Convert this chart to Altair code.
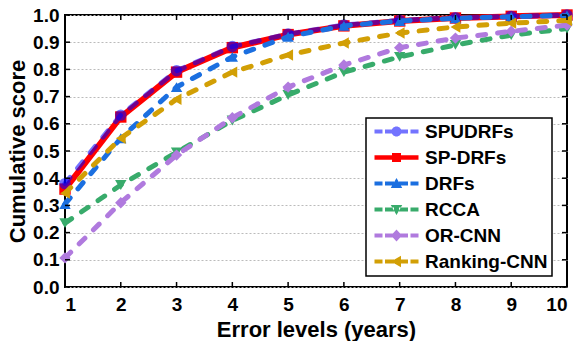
import altair as alt
import pandas as pd

x_levels = [1, 2, 3, 4, 5, 6, 7, 8, 9, 10]
spudrfs = [0.38, 0.632, 0.795, 0.884, 0.93, 0.963, 0.98, 0.99, 0.995, 1.0]
spdrfs = [0.36, 0.625, 0.79, 0.88, 0.928, 0.96, 0.978, 0.989, 0.995, 1.0]
drfs = [0.305, 0.547, 0.735, 0.846, 0.92, 0.96, 0.978, 0.988, 0.994, 0.998]
rcca = [0.235, 0.375, 0.495, 0.612, 0.706, 0.79, 0.846, 0.89, 0.926, 0.95]
orcnn = [0.107, 0.31, 0.485, 0.622, 0.735, 0.816, 0.88, 0.915, 0.94, 0.963]
ranking = [0.345, 0.547, 0.69, 0.79, 0.853, 0.897, 0.934, 0.956, 0.97, 0.98]

y_ticks = [0.0, 0.1, 0.2, 0.3, 0.4, 0.5, 0.6, 0.7, 0.8, 0.9, 1.0]

legend_order = ["SPUDRFs", "SP-DRFs", "DRFs", "RCCA", "OR-CNN", "Ranking-CNN"]
series_values = {
    "SPUDRFs": spudrfs, "SP-DRFs": spdrfs, "DRFs": drfs,
    "RCCA": rcca, "OR-CNN": orcnn, "Ranking-CNN": ranking,
}
colors = {
    "SPUDRFs": "#0000ff", "SP-DRFs": "#ff0000", "DRFs": "#1b6fe0",
    "RCCA": "#38ab6b", "OR-CNN": "#b07ade", "Ranking-CNN": "#d29f05",
}
legend_colors = ["#7373ff", "#ff0000", "#1b6fe0", "#38ab6b", "#b07ade", "#d29f05"]
shapes = {
    "SPUDRFs": "circle", "SP-DRFs": "square", "DRFs": "triangle-up",
    "RCCA": "triangle-down", "OR-CNN": "diamond", "Ranking-CNN": "triangle-left",
}

rows = []
for name in legend_order:
    for xv, yv in zip(x_levels, series_values[name]):
        rows.append({"x": xv, "y": yv, "method": name})
df = pd.DataFrame(rows)

W, H = 502, 272
FONT = "Liberation Sans"

xs = alt.Scale(domain=[1, 10], nice=False)
ys = alt.Scale(domain=[0, 1], nice=False)

x_axis = alt.Axis(
    values=x_levels, format="d", title="Error levels (years)", ticks=False,
    domain=False, grid=False, labelPadding=8, titlePadding=5, labelOverlap=False)
y_axis = alt.Axis(
    values=y_ticks, format=".1f", title="Cumulative score", ticks=False,
    domain=False, grid=True, gridColor="#bbbbbb", gridDash=[2, 2], gridWidth=1,
    labelPadding=6, titlePadding=3, labelOverlap=False)

def X():
    return alt.X("x:Q", scale=xs, axis=x_axis, title="Error levels (years)")

def Y():
    return alt.Y("y:Q", scale=ys, axis=y_axis, title="Cumulative score")

base = alt.Chart(df)

# Frame ticks (inward)
xt = pd.DataFrame({"x": x_levels})
yt = pd.DataFrame({"y": y_ticks})
tick_style = dict(color="black", strokeWidth=1.5)
ticks = [
    alt.Chart(xt).mark_rule(**tick_style).encode(x=X(), y=alt.value(H), y2=alt.value(H - 5)),
    alt.Chart(xt).mark_rule(**tick_style).encode(x=X(), y=alt.value(0), y2=alt.value(5)),
    alt.Chart(yt).mark_rule(**tick_style).encode(y=Y(), x=alt.value(0), x2=alt.value(5)),
    alt.Chart(yt).mark_rule(**tick_style).encode(y=Y(), x=alt.value(W), x2=alt.value(W - 5)),
]

layers = []
draw_order = ["SP-DRFs", "SPUDRFs", "DRFs", "RCCA", "OR-CNN", "Ranking-CNN"]
for name in draw_order:
    sub = base.transform_filter(alt.datum.method == name)
    op = 0.55 if name == "SPUDRFs" else 1.0
    if name == "SP-DRFs":
        line = sub.mark_line(color=colors[name], strokeWidth=6, opacity=op)
    else:
        line = sub.mark_line(color=colors[name], strokeWidth=5, strokeDash=[8, 12],
                             strokeCap="round", opacity=op)
    line = line.encode(x=X(), y=Y())
    pts = sub.mark_point(filled=True, color=colors[name], shape=shapes[name],
                         size=130, opacity=op).encode(x=X(), y=Y())
    layers += [line, pts]

# legend symbols: dashed line + marker paths
dash = "M-4.4,-0.4 L-2.8,-0.4 L-2.8,0.4 L-4.4,0.4 Z M-2.3,-0.4 L-0.5,-0.4 L-0.5,0.4 L-2.3,0.4 Z M0.5,-0.4 L2.3,-0.4 L2.3,0.4 L0.5,0.4 Z M2.8,-0.4 L4.4,-0.4 L4.4,0.4 L2.8,0.4 Z "
solid = "M-4.4,-0.45 L4.4,-0.45 L4.4,0.45 L-4.4,0.45 Z "
circle = "M1,0 A1,1 0 1,1 -1,0 A1,1 0 1,1 1,0 Z"
square = "M-0.9,-0.9 L0.9,-0.9 L0.9,0.9 L-0.9,0.9 Z"
tri_up = "M0,-1.1 L1.15,0.9 L-1.15,0.9 Z"
tri_down = "M0,1.1 L1.15,-0.9 L-1.15,-0.9 Z"
diamond = "M0,-1.2 L1.1,0 L0,1.2 L-1.1,0 Z"
tri_left = "M-1.1,0 L0.9,-1.15 L0.9,1.15 Z"
legend_paths = [dash + circle, solid + square, dash + tri_up, dash + tri_down,
                dash + diamond, dash + tri_left]

leg = dict(orient="none", legendX=301, legendY=103,
           strokeColor="black", fillColor="white",
           padding=4, symbolSize=100, symbolOffset=17,
           labelOffset=19, rowPadding=6,
           labelFont=FONT, labelFontSize=19,
           labelFontWeight="bold", labelColor="black",
           symbolStrokeWidth=0)

legend_layer = base.mark_point(filled=True, clip=True, opacity=1).encode(
    x=X(),
    y=alt.value(-2000),
    color=alt.Color("method:N", scale=alt.Scale(domain=legend_order, range=legend_colors),
                    sort=legend_order, title=None, legend=alt.Legend(**leg)),
    shape=alt.Shape("method:N", scale=alt.Scale(domain=legend_order, range=legend_paths),
                    sort=legend_order, title=None, legend=alt.Legend(**leg)),
)

chart = alt.layer(*layers, *ticks, legend_layer).properties(
    width=W, height=H,
    autosize=alt.AutoSizeParams(type="none"),
    padding={"left": 65, "top": 15, "right": 11, "bottom": 54},
).configure_view(stroke="black", strokeWidth=2).configure_axis(
    labelFont=FONT, labelFontSize=19, labelFontWeight="bold", labelColor="black",
    titleFont=FONT, titleFontSize=22, titleFontWeight="bold", titleColor="black",
).configure_legend(strokeWidth=1.5)

chart.save("out.html", embed_options={"renderer": "svg", "actions": False})
